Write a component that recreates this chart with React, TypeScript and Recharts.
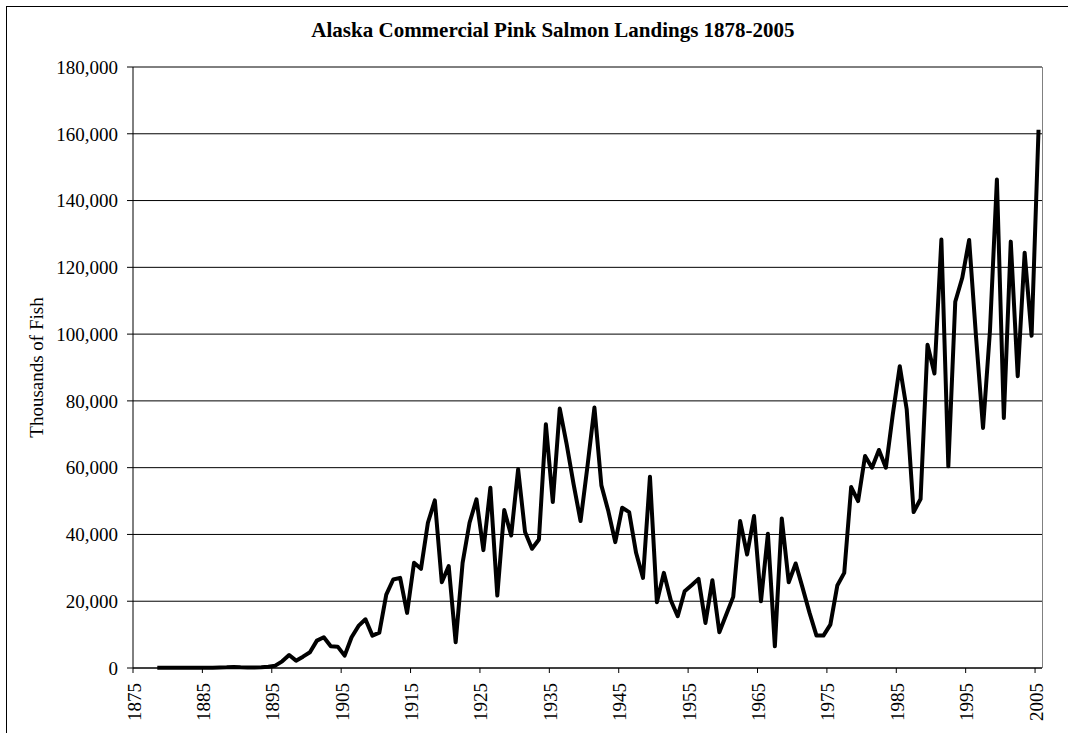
import { LineChart, Line, XAxis, YAxis, CartesianGrid } from 'recharts'

// Alaska pink salmon catch, thousands of fish, 1878-2005
const FIRST_YEAR = 1878

const landings = [
  // 1878-1879
  100, 100,
  // 1880s
  100, 100, 100, 100, 100, 100, 100, 150, 200, 300,
  // 1890s
  200, 150, 150, 200, 400, 700, 2000, 3900, 2200, 3400,
  // 1900s
  4700, 8200, 9200, 6500, 6400, 3700, 9200, 12600, 14600, 9700,
  // 1910s
  10600, 22000, 26500, 27000, 16500, 31500, 29700, 43500, 50200, 25700,
  // 1920s
  30500, 7700, 31500, 43500, 50500, 35300, 54000, 21700, 47300, 39700,
  // 1930s
  59500, 40700, 35700, 38500, 73000, 49700, 77700, 67000, 55000, 44000,
  // 1940s
  60500, 78000, 54700, 47000, 37700, 48000, 46700, 34500, 27000, 57300,
  // 1950s
  19700, 28500, 20300, 15500, 23000, 24800, 26700, 13500, 26300, 10700,
  // 1960s
  16000, 21300, 44000, 34000, 45500, 20000, 40200, 6500, 44800, 25700,
  // 1970s
  31300, 24000, 16500, 9700, 9700, 13000, 24700, 28500, 54200, 50000,
  // 1980s
  63500, 60000, 65300, 60000, 76000, 90400, 77500, 46700, 50600, 96800,
  // 1990s
  88200, 128300, 60400, 109700, 116800, 128200, 99000, 71900, 101000, 146300,
  // 2000s
  74900, 127700, 87400, 124400, 99500, 161200,
]

const years = landings.map((_, i) => FIRST_YEAR + i)

const xTicks = [1875, 1885, 1895, 1905, 1915, 1925, 1935, 1945, 1955, 1965, 1975, 1985, 1995, 2005]
const yTicks = [0, 20000, 40000, 60000, 80000, 100000, 120000, 140000, 160000, 180000]

const title = 'Alaska Commercial Pink Salmon Landings 1878-2005'
const yLabel = 'Thousands of Fish'

// excel style category axis: points sit in the middle of each year slot
const chartData = years.map((year, i) => ({ year, pos: year + 0.5, landings: landings[i] }))

const FONT = '"Liberation Serif", "Times New Roman", serif'

function YearTick(props: any) {
  const { x, y, payload } = props
  return (
    <text
      x={x}
      y={y}
      dx={-8}
      dy={7.5}
      transform={`rotate(-90 ${x} ${y})`}
      textAnchor="end"
      fontFamily={FONT}
      fontSize={19}
      fill="#000"
    >
      {payload.value}
    </text>
  )
}

export default function App() {
  return (
    <div style={{ position: 'absolute', left: 0, top: 0, width: 1068, height: 733, background: '#fff' }}>
      <LineChart
        width={1068}
        height={733}
        data={chartData}
        margin={{ top: 67, right: 26, bottom: 5, left: 0 }}
      >
        <CartesianGrid vertical={false} stroke="#000" strokeWidth={1} />
        <XAxis
          type="number"
          dataKey="pos"
          domain={[1875, 2006]}
          ticks={xTicks}
          interval={0}
          height={60}
          tickSize={5}
          tickMargin={2}
          axisLine={{ stroke: '#000' }}
          tickLine={{ stroke: '#000' }}
          tick={<YearTick />}
        />
        <YAxis
          type="number"
          domain={[0, 180000]}
          ticks={yTicks}
          interval={0}
          width={133}
          tickSize={6}
          tickMargin={9}
          axisLine={{ stroke: '#000' }}
          tickLine={{ stroke: '#000' }}
          tick={{ fill: '#000', fontFamily: FONT, fontSize: 19 }}
          tickFormatter={(v: number) => v.toLocaleString('en-US')}
        />
        <Line
          type="linear"
          dataKey="landings"
          stroke="#000"
          strokeWidth={4}
          strokeLinejoin="round"
          dot={false}
          activeDot={false}
          isAnimationActive={false}
        />
      </LineChart>
      <svg
        width={1068}
        height={733}
        style={{ position: 'absolute', left: 0, top: 0, pointerEvents: 'none' }}
      >
        <rect x={6.5} y={6.5} width={1080} height={760} fill="none" stroke="#000" strokeWidth={1} />
        <line x1={1042.5} y1={67} x2={1042.5} y2={668} stroke="#808080" strokeWidth={1} />
        <text x={553} y={37} textAnchor="middle" fontFamily={FONT} fontSize={21} fontWeight="bold" fill="#000">
          {title}
        </text>
        <text
          x={36}
          y={367.5}
          transform="rotate(-90 36 367.5)"
          textAnchor="middle"
          dy={6.5}
          fontFamily={FONT}
          fontSize={19}
          fill="#000"
        >
          {yLabel}
        </text>
      </svg>
    </div>
  )
}
